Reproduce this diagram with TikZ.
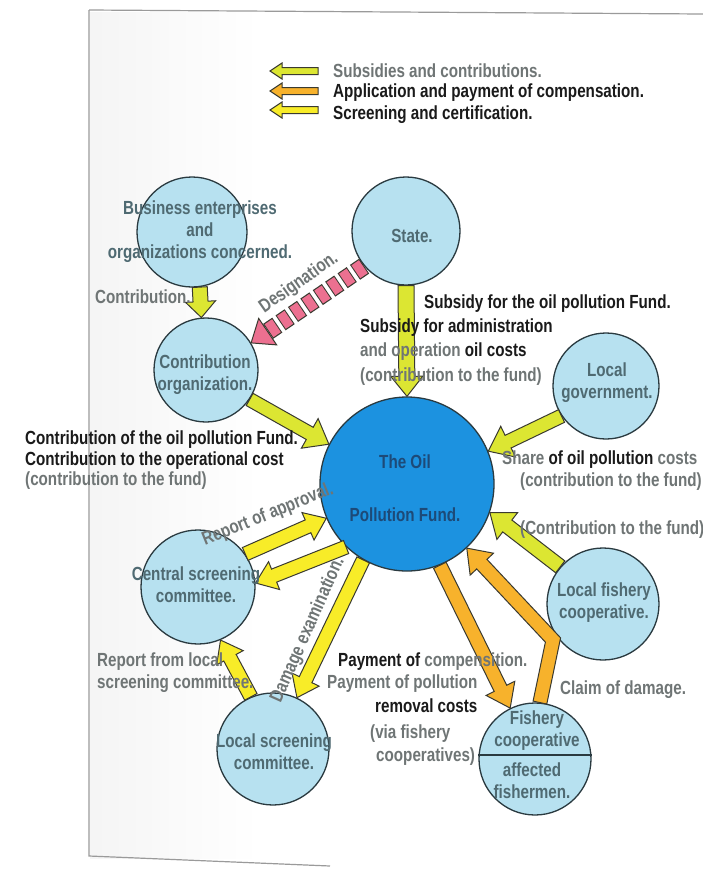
\documentclass[tikz,border=0pt]{standalone}
\usepackage{fontspec}
\setmainfont{Liberation Sans}[FakeStretch=0.8]
\usetikzlibrary{calc}
\definecolor{ygreen}{HTML}{DCE632}
\definecolor{yel}{HTML}{F8EC28}
\definecolor{orng}{HTML}{F7B22C}
\definecolor{pinkc}{HTML}{EC7090}
\definecolor{outl}{HTML}{3A3A30}
\definecolor{lblue}{HTML}{B7E1F0}
\definecolor{fundblue}{HTML}{1C92E0}
\definecolor{cline}{HTML}{2A3A40}
\definecolor{lgray}{HTML}{6F7575}
\definecolor{dark}{HTML}{1A1A1A}
\definecolor{ctext}{HTML}{4F6A72}
\definecolor{ftext}{HTML}{1D4A78}
\definecolor{framec}{HTML}{9A9A9A}
\newcommand\barrow[6][]{%
  \coordinate (ba-c) at ($(#3)!#6!(#2)$);
  \filldraw[blockarrow,#1] ($(#2)!#4!90:(#3)$) -- ($(ba-c)!#4!-90:(#2)$) -- ($(ba-c)!#5!-90:(#2)$) -- (#3) -- ($(ba-c)!#5!90:(#2)$) -- ($(ba-c)!#4!90:(#2)$) -- ($(#2)!#4!-90:(#3)$) -- cycle;
}
\tikzset{
  every node/.style={font=\fontsize{19}{22}\selectfont\bfseries},
  blockarrow/.style={draw=outl, line width=1pt, line join=miter},
  cnode/.style={circle, draw=cline, line width=1.3pt, fill=lblue, inner sep=0pt},
  ctxt/.style={text=ctext, align=center, inner sep=0pt},
  lbl/.style={text=lgray, anchor=west, align=left, inner sep=0pt},
  dlbl/.style={text=dark, anchor=west, align=left, inner sep=0pt},
}
\begin{document}
\begin{tikzpicture}[x=1pt,y=-1pt]
\useasboundingbox (0,0) rectangle (703,871);
\clip (0,0) rectangle (703,871);
\fill[white] (0,0) rectangle (703,871);
% page frame
\shade[left color=black!4, right color=white] (90,12) rectangle (260,858);
\draw[framec, line width=1.2pt] (89,10) -- (703,14);
\draw[framec, line width=1.2pt] (89,10) -- (89,856) -- (330,866);

% legend
\coordinate (lg1a) at (318,71); \coordinate (lg1b) at (270,71);
\coordinate (lg2a) at (318,91); \coordinate (lg2b) at (270,91);
\coordinate (lg3a) at (318,110); \coordinate (lg3b) at (270,110);
\barrow[fill=ygreen]{lg1a}{lg1b}{3.5pt}{8pt}{12pt}
\barrow[fill=orng]{lg2a}{lg2b}{3.5pt}{8pt}{12pt}
\barrow[fill=yel]{lg3a}{lg3b}{3.5pt}{8pt}{12pt}
\node[lbl] (lgt1) at (333,71) {Subsidies and contributions.};
\node[dlbl] (lgt2) at (333,93) {Application and payment of compensation.};
\node[dlbl] (lgt3) at (333,115) {Screening and certification.};

% circles
\node[cnode, minimum size=110pt] (biz) at (192,232) {};
\node[cnode, minimum size=108pt] (state) at (406,231) {};
\node[cnode, minimum size=104pt] (contrib) at (206,370) {};
\node[cnode, minimum size=106pt] (localgov) at (606,386) {};
\node[cnode, minimum size=174pt, fill=fundblue] (fund) at (407,484) {};
\node[cnode, minimum size=114pt] (central) at (198,587) {};
\node[cnode, minimum size=112pt] (localscr) at (273,749) {};
\node[cnode, minimum size=112pt] (localfish) at (603,604) {};
\node[cnode, minimum size=112pt] (fishery) at (535,759) {};
\draw[cline, line width=1.2pt] (fishery.176) -- (fishery.4);

% arrows: subsidies and contributions
\coordinate (a1s) at (biz.-82); \coordinate (a1e) at (contrib.95);
\barrow[fill=ygreen]{a1s}{a1e}{7.5pt}{15pt}{16pt}
\coordinate (a2s) at (state.-90); \coordinate (a2e) at (fund.90);
\barrow[fill=ygreen]{a2s}{a2e}{8pt}{16pt}{20pt}
\coordinate (a3s) at (contrib.-34); \coordinate (a3e) at (fund.153);
\barrow[fill=ygreen]{a3s}{a3e}{7pt}{17pt}{22pt}
\coordinate (a4s) at (localgov.214); \coordinate (a4e) at (fund.22);
\barrow[fill=ygreen]{a4s}{a4e}{7pt}{17pt}{22pt}
\coordinate (a5s) at (localfish.139); \coordinate (a5e) at (fund.-19);
\barrow[fill=ygreen]{a5s}{a5e}{7.5pt}{17pt}{22pt}

% designation (pink, segmented)
\coordinate (dsA) at (state.220); \coordinate (dsB) at (contrib.31);
\coordinate (dsC) at ($(dsB)!20pt!(dsA)$);
\draw[outl, line width=18pt, dash pattern=on 11pt off 4pt] (dsA) -- (dsC);
\draw[pinkc, line width=15.6pt, dash pattern=on 9pt off 6pt, dash phase=14pt] (dsA) -- (dsC);
\filldraw[blockarrow, fill=pinkc] ($(dsC)!16pt!90:(dsB)$) -- (dsB) -- ($(dsC)!16pt!-90:(dsB)$) -- cycle;

% screening arrows
\coordinate (s1s) at (central.35); \coordinate (s1e) at (fund.203);
\barrow[fill=yel]{s1s}{s1e}{7pt}{15pt}{20pt}
\coordinate (s2s) at (fund.226); \coordinate (s2e) at (central.4);
\barrow[fill=yel]{s2s}{s2e}{7pt}{15pt}{20pt}
\coordinate (s3s) at (fund.240); \coordinate (s3e) at (localscr.65);
\barrow[fill=yel]{s3s}{s3e}{7pt}{15pt}{20pt}
\coordinate (s4s) at (localscr.113); \coordinate (s4e) at (central.-67);
\barrow[fill=yel]{s4s}{s4e}{7pt}{15pt}{20pt}

% compensation arrows
\coordinate (c1s) at (fund.-68); \coordinate (c1e) at (fishery.116);
\barrow[fill=orng]{c1s}{c1e}{7pt}{16pt}{22pt}
% bent claim arrow
\coordinate (cA) at (fishery.85); \coordinate (cM) at (553,640); \coordinate (cB) at (fund.-47);
\coordinate (cC) at ($(cB)!22pt!(cM)$);
\coordinate (L1a) at ($(cA)!7pt!90:(cM)$); \coordinate (L1m) at ($(cM)!7pt!-90:(cA)$);
\coordinate (L2m) at ($(cM)!7pt!90:(cB)$); \coordinate (L2c) at ($(cC)!7pt!-90:(cM)$);
\coordinate (R1a) at ($(cA)!7pt!-90:(cM)$); \coordinate (R1m) at ($(cM)!7pt!90:(cA)$);
\coordinate (R2m) at ($(cM)!7pt!-90:(cB)$); \coordinate (R2c) at ($(cC)!7pt!90:(cM)$);
\coordinate (Lx) at (intersection of L1a--L1m and L2m--L2c);
\coordinate (Rx) at (intersection of R1a--R1m and R2m--R2c);
\filldraw[blockarrow, fill=orng] (L1a) -- (Lx) -- (L2c) -- ($(cC)!16pt!-90:(cM)$) -- (cB) -- ($(cC)!16pt!90:(cM)$) -- (R2c) -- (Rx) -- (R1a) -- cycle;

% circle texts
\node[ctxt] (biz-t) at (200,232) {Business enterprises\\and\\organizations concerned.};
\node[ctxt] (state-t) at (412,236) {State.};
\node[ctxt] (contrib-t) at (205,375) {Contribution\\organization.};
\node[ctxt] (localgov-t) at (607,383) {Local\\government.};
\node[ctxt, text=ftext, font=\fontsize{19}{53}\selectfont\bfseries] (fund-t) at (405,488) {The Oil\\Pollution Fund.};
\node[ctxt] (central-t) at (196,585) {Central screening\\committee.};
\node[ctxt] (localscr-t) at (274,752) {Local screening\\committee.};
\node[ctxt] (localfish-t) at (604,603) {Local fishery\\cooperative.};
\node[ctxt] (fishery-t1) at (537,731) {Fishery\\cooperative};
\node[ctxt] (fishery-t2) at (532,781) {affected\\fishermen.};

% labels
\node[lbl] (l-contr) at (95,297) {Contribution.};
\node[lbl, rotate=35] (l-desig) at (299,283) [anchor=center] {Designation.};
\node[dlbl] (l-sub1) at (424,304) {Subsidy for the oil pollution Fund.};
\node[dlbl] (l-sub2) at (360,328) {Subsidy for administration};
\node[lbl] (l-sub3) at (360,352) {and operation {\color{dark}oil costs}};
\node[lbl] (l-sub4) at (360,377) {(contribution to the fund)};
\node[dlbl] (l-cof1) at (25,440) {Contribution of the oil pollution Fund.};
\node[dlbl] (l-cof2) at (25,461) {Contribution to the operational cost};
\node[lbl] (l-cof3) at (25,481) {(contribution to the fund)};
\node[lbl] (l-share1) at (502,460) {Share {\color{dark}of oil pollution} costs};
\node[lbl] (l-share2) at (520,482) {(contribution to the fund)};
\node[lbl] (l-cfund) at (520,530) {(Contribution to the fund)};
\node[lbl, rotate=22, anchor=center] (l-appr) at (268,515) {Report of approval.};
\node[lbl, rotate=66, anchor=center] (l-dam) at (308,630) {Damage examination.};
\node[lbl] (l-rep) at (97,673) {Report from local\\screening committee.};
\node[lbl] (l-pay1) at (338,662) {{\color{dark}Payment of} compensition.};
\node[lbl] (l-pay2) at (327,684) {Payment of pollution};
\node[dlbl] (l-pay3) at (375,706) {removal costs};
\node[lbl] (l-pay4) at (370,734) {(via fishery};
\node[lbl] (l-pay5) at (376,757) {cooperatives)};
\node[lbl] (l-claim) at (560,690) {Claim of damage.};
\end{tikzpicture}
\end{document}
